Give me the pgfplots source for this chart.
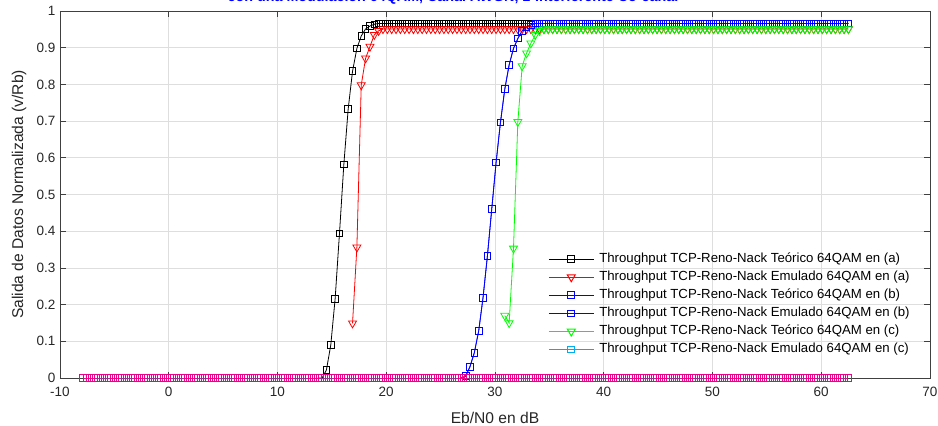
\documentclass[border=0pt]{standalone}
\usepackage{fontspec}
\setmainfont{Liberation Sans}
\usepackage{pgfplots}
\usepackage{pgfplotstable}
\pgfplotsset{compat=1.18}

\definecolor{axisgray}{gray}{0.25}
\definecolor{textgray}{gray}{0.15}
\definecolor{gridgray}{gray}{0.87}

% Throughput normalizado frente a Eb/N0 (paso de 0.4 dB)
% ta: teorico (a), ea: emulado (a), tb: teorico/emulado (b), tc: teorico (c), z: emulado (c)
\pgfplotstableread{
x ta ea tb tc z
-7.9 nan nan nan nan 0
-7.5 nan nan nan nan 0
-7.1 nan nan nan nan 0
-6.7 nan nan nan nan 0
-6.3 nan nan nan nan 0
-5.9 nan nan nan nan 0
-5.5 nan nan nan nan 0
-5.1 nan nan nan nan 0
-4.7 nan nan nan nan 0
-4.3 nan nan nan nan 0
-3.9 nan nan nan nan 0
-3.5 nan nan nan nan 0
-3.1 nan nan nan nan 0
-2.7 nan nan nan nan 0
-2.3 nan nan nan nan 0
-1.9 nan nan nan nan 0
-1.5 nan nan nan nan 0
-1.1 nan nan nan nan 0
-0.7 nan nan nan nan 0
-0.3 nan nan nan nan 0
0.1 nan nan nan nan 0
0.5 nan nan nan nan 0
0.9 nan nan nan nan 0
1.3 nan nan nan nan 0
1.7 nan nan nan nan 0
2.1 nan nan nan nan 0
2.5 nan nan nan nan 0
2.9 nan nan nan nan 0
3.3 nan nan nan nan 0
3.7 nan nan nan nan 0
4.1 nan nan nan nan 0
4.5 nan nan nan nan 0
4.9 nan nan nan nan 0
5.3 nan nan nan nan 0
5.7 nan nan nan nan 0
6.1 nan nan nan nan 0
6.5 nan nan nan nan 0
6.9 nan nan nan nan 0
7.3 nan nan nan nan 0
7.7 nan nan nan nan 0
8.1 nan nan nan nan 0
8.5 nan nan nan nan 0
8.9 nan nan nan nan 0
9.3 nan nan nan nan 0
9.7 nan nan nan nan 0
10.1 nan nan nan nan 0
10.5 nan nan nan nan 0
10.9 nan nan nan nan 0
11.3 nan nan nan nan 0
11.7 nan nan nan nan 0
12.1 nan nan nan nan 0
12.5 nan nan nan nan 0
12.9 nan nan nan nan 0
13.3 nan nan nan nan 0
13.7 0 nan nan nan 0
14.1 0 nan nan nan 0
14.5 0.022 nan nan nan 0
14.9 0.090 nan nan nan 0
15.3 0.216 nan nan nan 0
15.7 0.394 nan nan nan 0
16.1 0.582 nan nan nan 0
16.5 0.733 nan nan nan 0
16.9 0.836 0.149 nan nan 0
17.3 0.898 0.356 nan nan 0
17.7 0.932 0.798 nan nan 0
18.1 0.951 0.871 nan nan 0
18.5 0.959 0.903 nan nan 0
18.9 0.964 0.935 nan nan 0
19.3 0.966 0.946 nan nan 0
19.7 0.966 0.951 nan nan 0
20.1 0.966 0.951 nan nan 0
20.5 0.966 0.951 nan nan 0
20.9 0.966 0.951 nan nan 0
21.3 0.966 0.951 nan nan 0
21.7 0.966 0.951 nan nan 0
22.1 0.966 0.951 nan nan 0
22.5 0.966 0.951 nan nan 0
22.9 0.966 0.951 nan nan 0
23.3 0.966 0.951 nan nan 0
23.7 0.966 0.951 nan nan 0
24.1 0.966 0.951 nan nan 0
24.5 0.966 0.951 nan nan 0
24.9 0.966 0.951 nan nan 0
25.3 0.966 0.951 nan nan 0
25.7 0.966 0.951 nan nan 0
26.1 0.966 0.951 nan nan 0
26.5 0.966 0.951 nan nan 0
26.9 0.966 0.951 0 nan 0
27.3 0.966 0.951 0.005 nan 0
27.7 0.966 0.951 0.031 nan 0
28.1 0.966 0.951 0.069 nan 0
28.5 0.966 0.951 0.128 nan 0
28.9 0.966 0.951 0.219 nan 0
29.3 0.966 0.951 0.332 nan 0
29.7 0.966 0.951 0.460 nan 0
30.1 0.966 0.951 0.587 nan 0
30.5 0.966 0.951 0.696 nan 0
30.9 0.966 0.951 0.787 0.170 0
31.3 0.966 0.951 0.853 0.150 0
31.7 0.966 0.951 0.898 0.353 0
32.1 0.966 0.951 0.925 0.698 0
32.5 0.966 0.951 0.946 0.850 0
32.9 0.966 0.951 0.957 0.885 0
33.3 0.966 0.951 0.962 0.912 0
33.7 0.966 0.951 0.966 0.935 0
34.1 0.966 0.951 0.966 0.946 0
34.5 0.966 0.951 0.966 0.951 0
34.9 0.966 0.951 0.966 0.951 0
35.3 0.966 0.951 0.966 0.951 0
35.7 0.966 0.951 0.966 0.951 0
36.1 0.966 0.951 0.966 0.951 0
36.5 0.966 0.951 0.966 0.951 0
36.9 0.966 0.951 0.966 0.951 0
37.3 0.966 0.951 0.966 0.951 0
37.7 0.966 0.951 0.966 0.951 0
38.1 0.966 0.951 0.966 0.951 0
38.5 0.966 0.951 0.966 0.951 0
38.9 0.966 0.951 0.966 0.951 0
39.3 0.966 0.951 0.966 0.951 0
39.7 0.966 0.951 0.966 0.951 0
40.1 0.966 0.951 0.966 0.951 0
40.5 0.966 0.951 0.966 0.951 0
40.9 0.966 0.951 0.966 0.951 0
41.3 0.966 0.951 0.966 0.951 0
41.7 0.966 0.951 0.966 0.951 0
42.1 0.966 0.951 0.966 0.951 0
42.5 0.966 0.951 0.966 0.951 0
42.9 0.966 0.951 0.966 0.951 0
43.3 0.966 0.951 0.966 0.951 0
43.7 0.966 0.951 0.966 0.951 0
44.1 0.966 0.951 0.966 0.951 0
44.5 0.966 0.951 0.966 0.951 0
44.9 0.966 0.951 0.966 0.951 0
45.3 0.966 0.951 0.966 0.951 0
45.7 0.966 0.951 0.966 0.951 0
46.1 0.966 0.951 0.966 0.951 0
46.5 0.966 0.951 0.966 0.951 0
46.9 0.966 0.951 0.966 0.951 0
47.3 0.966 0.951 0.966 0.951 0
47.7 0.966 0.951 0.966 0.951 0
48.1 0.966 0.951 0.966 0.951 0
48.5 0.966 0.951 0.966 0.951 0
48.9 0.966 0.951 0.966 0.951 0
49.3 0.966 0.951 0.966 0.951 0
49.7 0.966 0.951 0.966 0.951 0
50.1 0.966 0.951 0.966 0.951 0
50.5 0.966 0.951 0.966 0.951 0
50.9 0.966 0.951 0.966 0.951 0
51.3 0.966 0.951 0.966 0.951 0
51.7 0.966 0.951 0.966 0.951 0
52.1 0.966 0.951 0.966 0.951 0
52.5 0.966 0.951 0.966 0.951 0
52.9 0.966 0.951 0.966 0.951 0
53.3 0.966 0.951 0.966 0.951 0
53.7 0.966 0.951 0.966 0.951 0
54.1 0.966 0.951 0.966 0.951 0
54.5 0.966 0.951 0.966 0.951 0
54.9 0.966 0.951 0.966 0.951 0
55.3 0.966 0.951 0.966 0.951 0
55.7 0.966 0.951 0.966 0.951 0
56.1 0.966 0.951 0.966 0.951 0
56.5 0.966 0.951 0.966 0.951 0
56.9 0.966 0.951 0.966 0.951 0
57.3 0.966 0.951 0.966 0.951 0
57.7 0.966 0.951 0.966 0.951 0
58.1 0.966 0.951 0.966 0.951 0
58.5 0.966 0.951 0.966 0.951 0
58.9 0.966 0.951 0.966 0.951 0
59.3 0.966 0.951 0.966 0.951 0
59.7 0.966 0.951 0.966 0.951 0
60.1 0.966 0.951 0.966 0.951 0
60.5 0.966 0.951 0.966 0.951 0
60.9 0.966 0.951 0.966 0.951 0
61.3 0.966 0.951 0.966 0.951 0
61.7 0.966 0.951 0.966 0.951 0
62.1 0.966 0.951 0.966 0.951 0
62.5 0.966 0.951 0.966 0.951 0
}\datos

\begin{document}
\begin{tikzpicture}
\path[use as bounding box] (-60pt,-48pt) rectangle (878pt,378pt);
\begin{axis}[
  at={(0pt,0pt)}, anchor=south west,
  scale only axis, width=870pt, height=367pt,
  xmin=-10, xmax=70, ymin=0, ymax=1,
  xtick={-10,0,10,20,30,40,50,60,70},
  ytick={0,0.1,0.2,0.3,0.4,0.5,0.6,0.7,0.8,0.9,1},
  tick align=inside, major tick length=6pt,
  xtick pos=both, ytick pos=both,
  axis line style={axisgray, line width=0.7pt},
  tick style={axisgray, line width=0.7pt},
  grid=major, major grid style={gridgray, line width=0.7pt},
  /pgf/number format/assume math mode=true,
  ticklabel style={font=\fontsize{13.5}{16}\selectfont, text=textgray},
  xticklabel style={yshift=-5.5pt},
  yticklabel style={xshift=-1pt},
  xlabel={Eb/N0 en dB},
  ylabel={Salida de Datos Normalizada (v/Rb)},
  label style={font=\fontsize{15.6}{18}\selectfont, text=textgray},
  xlabel style={at={(axis description cs:0.5,-0.1245)}, anchor=base},
  ylabel style={at={(axis description cs:-0.0425,0.5)}, anchor=base},
  title={con una Modulación 64QAM, Canal AWGN, 1-Interferente Co-canal},
  title style={at={(axis description cs:0.4517,1.010)}, anchor=base,
    font=\bfseries\fontsize{14.3}{18}\selectfont, text=blue},
  every axis plot/.append style={line width=0.8pt},
  legend cell align=left,
  legend style={draw=none, fill=none, inner sep=0pt,
    at={(rel axis cs:0.561,0.342)}, anchor=north west,
    font=\fontsize{13.2}{15}\selectfont,
    row sep=5.4pt, column sep=5pt,
    nodes={inner sep=0pt, text height=9.7pt, text depth=3pt}},
  legend image code/.code={%
    \draw[line width=1pt, mark repeat=2, mark phase=2] plot coordinates {(0pt,0pt) (22.5pt,0pt) (45pt,0pt)};},
]
\addplot[black, mark=square, mark size=3.3pt] table[x=x, y=ta]{\datos};
\addlegendentry{Throughput TCP-Reno-Nack Teórico 64QAM en (a)}
\addplot[red, mark=triangle, mark size=4.6pt, mark options={rotate=180}] table[x=x, y=ea]{\datos};
\addlegendentry{Throughput TCP-Reno-Nack Emulado 64QAM en (a)}
\addplot[blue, mark=square, mark size=3.3pt] table[x=x, y=tb]{\datos};
\addlegendentry{Throughput TCP-Reno-Nack Teórico 64QAM en (b)}
\addplot[blue, mark=square, mark size=3.3pt] table[x=x, y=tb]{\datos};
\addlegendentry{Throughput TCP-Reno-Nack Emulado 64QAM en (b)}
\addplot[green, mark=triangle, mark size=4.6pt, mark options={rotate=180}] table[x=x, y=tc]{\datos};
\addlegendentry{Throughput TCP-Reno-Nack Teórico 64QAM en (c)}
\addplot[cyan, mark=square, mark size=3.3pt] table[x=x, y=z]{\datos};
\addlegendentry{Throughput TCP-Reno-Nack Emulado 64QAM en (c)}
\addplot[magenta, mark=square, mark size=3.3pt, forget plot] table[x=x, y=z]{\datos};
\end{axis}
\end{tikzpicture}
\end{document}
